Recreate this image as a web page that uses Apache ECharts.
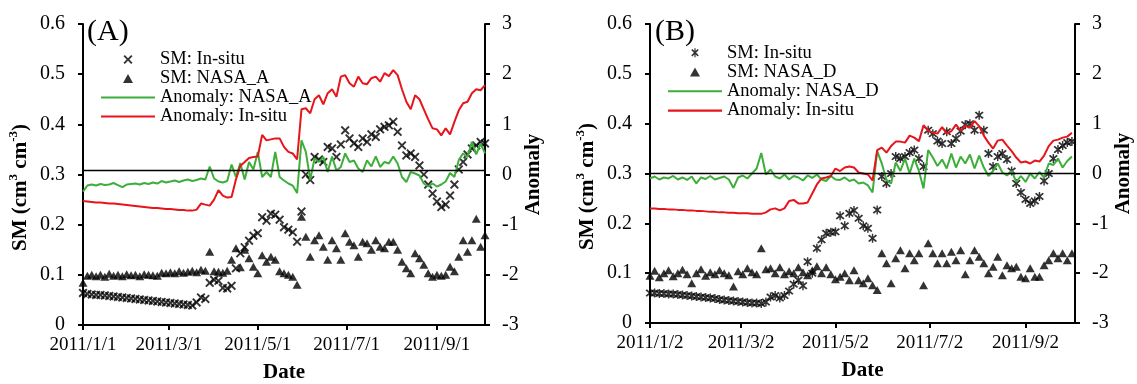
<!DOCTYPE html>
<html>
<head>
<meta charset="utf-8">
<script src="https://cdn.jsdelivr.net/npm/echarts@6/dist/echarts.min.js"></script>
<style>
html,body{margin:0;padding:0;background:#fff;}
#c{width:1137px;height:384px;}
</style>
</head>
<body>
<div id="c"></div>
<script>
// ---- data (values every STEP days from the first category) ----
const STEP = 3;
const ticksA = ['2011/1/1','2011/3/1','2011/5/1','2011/7/1','2011/9/1'];
const ticksB = ['2011/1/2','2011/3/2','2011/5/2','2011/7/2','2011/9/2'];
const namesA = ['SM: In-situ','SM: NASA_A','Anomaly: NASA_A','Anomaly: In-situ'];
const namesB = ['SM: In-situ','SM: NASA_D','Anomaly: NASA_D','Anomaly: In-situ'];
const refLineA = 0.08;
const refLineB = 0;

const insituA = [0.064,0.062,0.061,0.060,0.060,0.059,0.058,0.057,0.056,0.055,
 0.054,0.053,0.052,0.051,0.050,0.049,0.048,0.047,0.046,0.045,
 0.044,0.043,0.042,0.041,0.040,0.039,0.045,0.055,0.052,0.084,
 0.090,0.088,0.074,0.073,0.078,0.113,0.143,0.155,0.168,0.178,
 0.183,0.215,0.208,0.222,0.220,0.210,0.195,0.190,0.185,0.166,
 0.226,0.300,0.289,0.335,0.330,0.325,0.355,0.352,0.335,0.360,
 0.388,0.372,0.362,0.355,0.372,0.365,0.380,0.375,0.390,0.395,
 0.398,0.405,0.385,0.358,0.338,0.342,0.335,0.318,0.300,0.280,
 0.262,0.246,0.235,0.240,0.258,0.280,0.310,0.325,0.340,0.352,
 0.358,0.365,0.362];
const nasaA = [0.084,0.098,0.100,0.097,0.100,0.096,0.102,0.098,0.100,0.097,
 0.101,0.099,0.100,0.097,0.101,0.100,0.099,0.098,0.104,0.103,
 0.105,0.103,0.107,0.104,0.106,0.108,0.105,0.110,0.108,0.146,
 0.107,0.106,0.104,0.108,0.130,0.153,0.115,0.150,0.133,0.116,
 0.103,0.139,0.126,0.136,0.130,0.107,0.103,0.100,0.096,0.080,
 0.216,0.176,0.136,0.169,0.179,0.156,0.130,0.169,0.153,0.130,
 0.183,0.166,0.159,0.136,0.166,0.163,0.150,0.169,0.156,0.153,
 0.166,0.166,0.150,0.126,0.113,0.103,0.143,0.133,0.120,0.103,
 0.096,0.100,0.098,0.100,0.116,0.107,0.136,0.169,0.146,0.169,
 0.212,0.156,0.179];
const anomNasaA = [-0.34,-0.22,-0.20,-0.22,-0.19,-0.21,-0.20,-0.17,-0.21,-0.25,
 -0.20,-0.19,-0.18,-0.20,-0.17,-0.19,-0.16,-0.18,-0.13,-0.16,
 -0.14,-0.12,-0.15,-0.12,-0.10,-0.13,-0.11,-0.08,-0.10,0.16,
 -0.08,-0.14,-0.16,-0.13,0.20,-0.05,0.23,-0.10,0.25,0.10,
 0.45,-0.05,0.05,-0.05,0.45,-0.05,-0.12,-0.18,-0.22,-0.37,
 0.68,0.45,-0.10,0.32,0.25,0.35,0.05,0.36,0.08,0.15,
 0.42,0.25,0.28,0.12,0.05,0.28,0.16,0.36,0.15,0.25,
 0.22,0.36,0.22,-0.05,-0.15,0.05,0.02,-0.02,-0.18,-0.24,
 -0.18,-0.24,-0.20,-0.14,0.03,-0.05,0.29,0.42,0.35,0.65,
 0.40,0.62,0.42];
const anomInsituA = [-0.53,-0.54,-0.55,-0.56,-0.56,-0.57,-0.58,-0.58,-0.59,-0.60,
 -0.61,-0.62,-0.63,-0.64,-0.65,-0.66,-0.67,-0.67,-0.68,-0.69,
 -0.69,-0.70,-0.71,-0.71,-0.72,-0.72,-0.70,-0.58,-0.60,-0.62,
 -0.50,-0.31,-0.42,-0.46,-0.45,-0.10,0.17,0.25,0.33,0.35,
 0.36,0.79,0.68,0.70,0.72,0.72,0.55,0.45,0.42,0.30,
 1.30,1.32,1.22,1.50,1.58,1.40,1.62,1.70,1.55,1.95,
 1.98,1.82,1.75,1.95,1.82,1.80,1.92,1.95,1.85,2.02,
 1.96,2.08,1.98,1.70,1.45,1.30,1.58,1.50,1.30,1.10,
 0.92,0.90,0.78,0.92,0.80,1.05,1.28,1.42,1.45,1.62,
 1.70,1.68,1.78];

const insituB = [0.060,0.060,0.059,0.059,0.058,0.058,0.057,0.056,0.055,0.054,
 0.053,0.052,0.051,0.050,0.049,0.047,0.046,0.045,0.044,0.043,
 0.042,0.041,0.040,0.040,0.039,0.042,0.052,0.055,0.050,0.055,
 0.064,0.078,0.086,0.075,0.123,0.100,0.150,0.167,0.180,0.182,
 0.183,0.215,0.195,0.220,0.226,0.210,0.195,0.190,0.170,0.227,
 0.294,0.280,0.300,0.334,0.330,0.334,0.342,0.347,0.330,0.314,
 0.387,0.380,0.365,0.360,0.384,0.360,0.370,0.385,0.398,0.400,
 0.387,0.417,0.387,0.340,0.314,0.334,0.340,0.328,0.305,0.280,
 0.262,0.248,0.240,0.245,0.254,0.285,0.300,0.330,0.348,0.356,
 0.362,0.364];
const nasaB = [0.095,0.105,0.092,0.100,0.106,0.094,0.100,0.107,0.098,0.080,
 0.100,0.108,0.095,0.102,0.098,0.106,0.100,0.096,0.073,0.104,
 0.098,0.110,0.102,0.098,0.150,0.108,0.110,0.100,0.112,0.098,
 0.104,0.100,0.112,0.102,0.096,0.106,0.114,0.100,0.112,0.098,
 0.088,0.093,0.100,0.086,0.106,0.086,0.080,0.090,0.076,0.066,
 0.140,0.120,0.080,0.130,0.146,0.110,0.140,0.126,0.140,0.076,
 0.160,0.140,0.120,0.140,0.120,0.143,0.126,0.146,0.098,0.126,
 0.146,0.133,0.120,0.100,0.113,0.133,0.096,0.116,0.110,0.113,
 0.093,0.090,0.110,0.093,0.093,0.116,0.126,0.140,0.130,0.140,
 0.126,0.140];
const anomNasaB = [-0.10,-0.06,-0.12,-0.08,-0.10,-0.05,-0.12,-0.08,-0.13,-0.06,
 -0.20,-0.08,-0.11,-0.05,-0.12,-0.09,-0.06,-0.12,-0.29,-0.08,
 -0.04,-0.10,0.00,0.10,0.41,-0.02,0.08,-0.06,-0.10,-0.02,
 -0.12,-0.05,-0.08,-0.14,-0.04,-0.09,-0.02,-0.12,-0.15,-0.05,
 -0.12,-0.13,-0.08,-0.15,-0.12,-0.20,-0.18,-0.24,-0.38,0.45,
 0.20,-0.13,-0.20,0.22,0.05,0.30,0.00,0.30,0.05,-0.30,
 0.47,0.32,0.15,0.28,0.10,0.40,0.12,0.34,0.20,0.38,
 0.10,0.36,0.12,-0.05,0.05,0.20,0.02,-0.04,0.05,-0.17,
 -0.05,-0.17,0.00,-0.10,0.03,-0.08,0.20,0.17,0.30,0.12,
 0.25,0.34];
const anomInsituB = [-0.70,-0.70,-0.71,-0.71,-0.72,-0.72,-0.73,-0.73,-0.74,-0.74,
 -0.75,-0.75,-0.76,-0.77,-0.77,-0.78,-0.78,-0.79,-0.79,-0.80,
 -0.80,-0.80,-0.81,-0.81,-0.81,-0.78,-0.72,-0.70,-0.74,-0.70,
 -0.55,-0.53,-0.60,-0.60,-0.58,-0.40,-0.22,-0.10,-0.08,-0.05,
 0.10,0.05,0.12,0.14,0.12,0.02,0.00,-0.02,-0.14,0.47,
 0.52,0.42,0.55,0.64,0.64,0.62,0.76,0.72,0.65,0.97,
 0.86,0.82,0.80,0.93,0.80,0.85,0.98,0.86,0.96,0.92,
 1.05,0.95,0.76,0.62,0.50,0.66,0.68,0.56,0.45,0.32,
 0.22,0.24,0.20,0.26,0.24,0.36,0.55,0.66,0.68,0.72,
 0.74,0.82];

// ---- helpers ----
function dayLabels(y, m, d, n) {
  const out = [];
  for (let i = 0; i < n; i++) {
    const t = new Date(Date.UTC(y, m - 1, d + i));
    out.push(t.getUTCFullYear() + '/' + (t.getUTCMonth() + 1) + '/' + t.getUTCDate());
  }
  return out;
}
const catsA = dayLabels(2011, 1, 1, 277);
const catsB = dayLabels(2011, 1, 2, 276);
const toData = arr => arr.map((v, i) => [i * STEP, v]);

const FONT = 'Liberation Serif';
const GREEN = '#3DAE3A';
const RED = '#E8141B';
const CROSS = 'path://M0,1.5L1.5,0L5,3.5L8.5,0L10,1.5L6.5,5L10,8.5L8.5,10L5,6.5L1.5,10L0,8.5L3.5,5Z';
const STAR = 'path://M0,1.5L1.5,0L5,3.5L8.5,0L10,1.5L6.5,5L10,8.5L8.5,10L5,6.5L1.5,10L0,8.5L3.5,5Z M4.2,-1L5.8,-1L5.8,11L4.2,11Z';
const TRI = 'path://M5,0L10,9L0,9Z';
const LINEICON = 'path://M0,0L54,0L54,2.2L0,2.2Z';
const SUFFIX = '\u0000B';

function xAxisOf(gi, cats, ticks) {
  const f = (i, v) => ticks.indexOf(v) >= 0;
  return {
    type: 'category', gridIndex: gi, data: cats, boundaryGap: false,
    axisLine: {lineStyle: {color: '#000', width: 2}},
    axisTick: {interval: f, length: 5, lineStyle: {color: '#000', width: 2}},
    axisLabel: {interval: f, fontSize: 19, color: '#000', fontFamily: FONT, margin: 11},
    splitLine: {show: false},
    name: 'Date', nameLocation: 'middle', nameGap: 37,
    nameTextStyle: {fontSize: 21, fontWeight: 'bold', color: '#000', fontFamily: FONT}
  };
}
function yLeft(gi) {
  return {
    type: 'value', gridIndex: gi, min: 0, max: 0.6, interval: 0.1, position: 'left',
    axisLine: {show: true, lineStyle: {color: '#000', width: 2}},
    axisTick: {show: true, length: 5, lineStyle: {color: '#000', width: 2}},
    axisLabel: {fontSize: 20, color: '#000', fontFamily: FONT, margin: 18},
    splitLine: {show: false},
    name: '{a|SM (cm}{s|3}{a| cm}{s|-3}{a|)}', nameLocation: 'middle', nameGap: 52,
    nameTextStyle: {
      fontSize: 21, fontWeight: 'bold', color: '#000', fontFamily: FONT,
      padding: [0, 26, 0, 0],
      rich: {
        a: {fontSize: 21, fontWeight: 'bold', fontFamily: FONT, color: '#000', lineHeight: 24, verticalAlign: 'bottom'},
        s: {fontSize: 13, fontWeight: 'bold', fontFamily: FONT, color: '#000', lineHeight: 24, verticalAlign: 'top'}
      }
    }
  };
}
function yRight(gi) {
  return {
    type: 'value', gridIndex: gi, min: -3, max: 3, interval: 1, position: 'right',
    axisLine: {show: true, lineStyle: {color: '#000', width: 2}},
    axisTick: {show: true, length: 5, lineStyle: {color: '#000', width: 2}},
    axisLabel: {fontSize: 20, color: '#000', fontFamily: FONT, margin: 17},
    splitLine: {show: false},
    name: 'Anomaly', nameLocation: 'middle', nameGap: 38, nameRotate: 90,
    nameTextStyle: {fontSize: 21, fontWeight: 'bold', color: '#000', fontFamily: FONT}
  };
}
function panelSeries(k, names, suffix, sym, insitu, nasa, anN, anI, ref) {
  return [
    {name: names[0] + suffix, type: 'scatter', xAxisIndex: k, yAxisIndex: 2 * k,
     symbol: sym, symbolSize: 9, itemStyle: {color: '#000'}, data: toData(insitu), z: 2},
    {name: names[1] + suffix, type: 'scatter', xAxisIndex: k, yAxisIndex: 2 * k,
     symbol: TRI, symbolSize: [9, 8], itemStyle: {color: '#000'}, data: toData(nasa), z: 2},
    {name: names[2] + suffix, type: 'line', xAxisIndex: k, yAxisIndex: 2 * k + 1,
     showSymbol: false, symbol: 'none', lineStyle: {color: GREEN, width: 2}, itemStyle: {color: GREEN},
     data: toData(anN), z: 3},
    {name: names[3] + suffix, type: 'line', xAxisIndex: k, yAxisIndex: 2 * k + 1,
     showSymbol: false, symbol: 'none', lineStyle: {color: RED, width: 2}, itemStyle: {color: RED},
     data: toData(anI), z: 4,
     markLine: {silent: true, symbol: 'none', label: {show: false}, animation: false,
       lineStyle: {color: '#000', width: 1.3, type: 'solid'}, data: [{yAxis: ref}]}}
  ];
}
function legendOf(names, suffix, sym, left, top, lh) {
  const icons = [sym, TRI, LINEICON, LINEICON];
  return {
    orient: 'vertical', left: left, top: top, itemWidth: 54, itemHeight: 9, itemGap: 0,
    padding: 0, selectedMode: false, symbolKeepAspect: true,
    data: names.map((n, i) => ({name: n + suffix, icon: icons[i]})),
    formatter: n => n.split(SUFFIX)[0],
    textStyle: {fontSize: 18.5, fontFamily: FONT, color: '#000', lineHeight: lh}
  };
}

const chart = echarts.init(document.getElementById('c'), null, {renderer: 'canvas'});
chart.setOption({
  animation: false,
  backgroundColor: '#fff',
  textStyle: {fontFamily: FONT, color: '#000'},
  title: [
    {text: '(A)', left: 87, top: 17, padding: 0, textStyle: {fontSize: 30, fontWeight: 'normal', fontFamily: FONT, color: '#000'}},
    {text: '(B)', left: 655, top: 17, padding: 0, textStyle: {fontSize: 30, fontWeight: 'normal', fontFamily: FONT, color: '#000'}}
  ],
  legend: [legendOf(namesA, '', CROSS, 101, 50, 18), legendOf(namesB, SUFFIX, STAR, 668, 43, 19.3)],
  grid: [
    {left: 83, top: 24, width: 402, height: 301, containLabel: false, outerBoundsMode: 'none'},
    {left: 650, top: 24, width: 425, height: 299, containLabel: false, outerBoundsMode: 'none'}
  ],
  xAxis: [xAxisOf(0, catsA, ticksA), xAxisOf(1, catsB, ticksB)],
  yAxis: [yLeft(0), yRight(0), yLeft(1), yRight(1)],
  series: [].concat(
    panelSeries(0, namesA, '', CROSS, insituA, nasaA, anomNasaA, anomInsituA, refLineA),
    panelSeries(1, namesB, SUFFIX, STAR, insituB, nasaB, anomNasaB, anomInsituB, refLineB)
  )
});
</script>
</body>
</html>
